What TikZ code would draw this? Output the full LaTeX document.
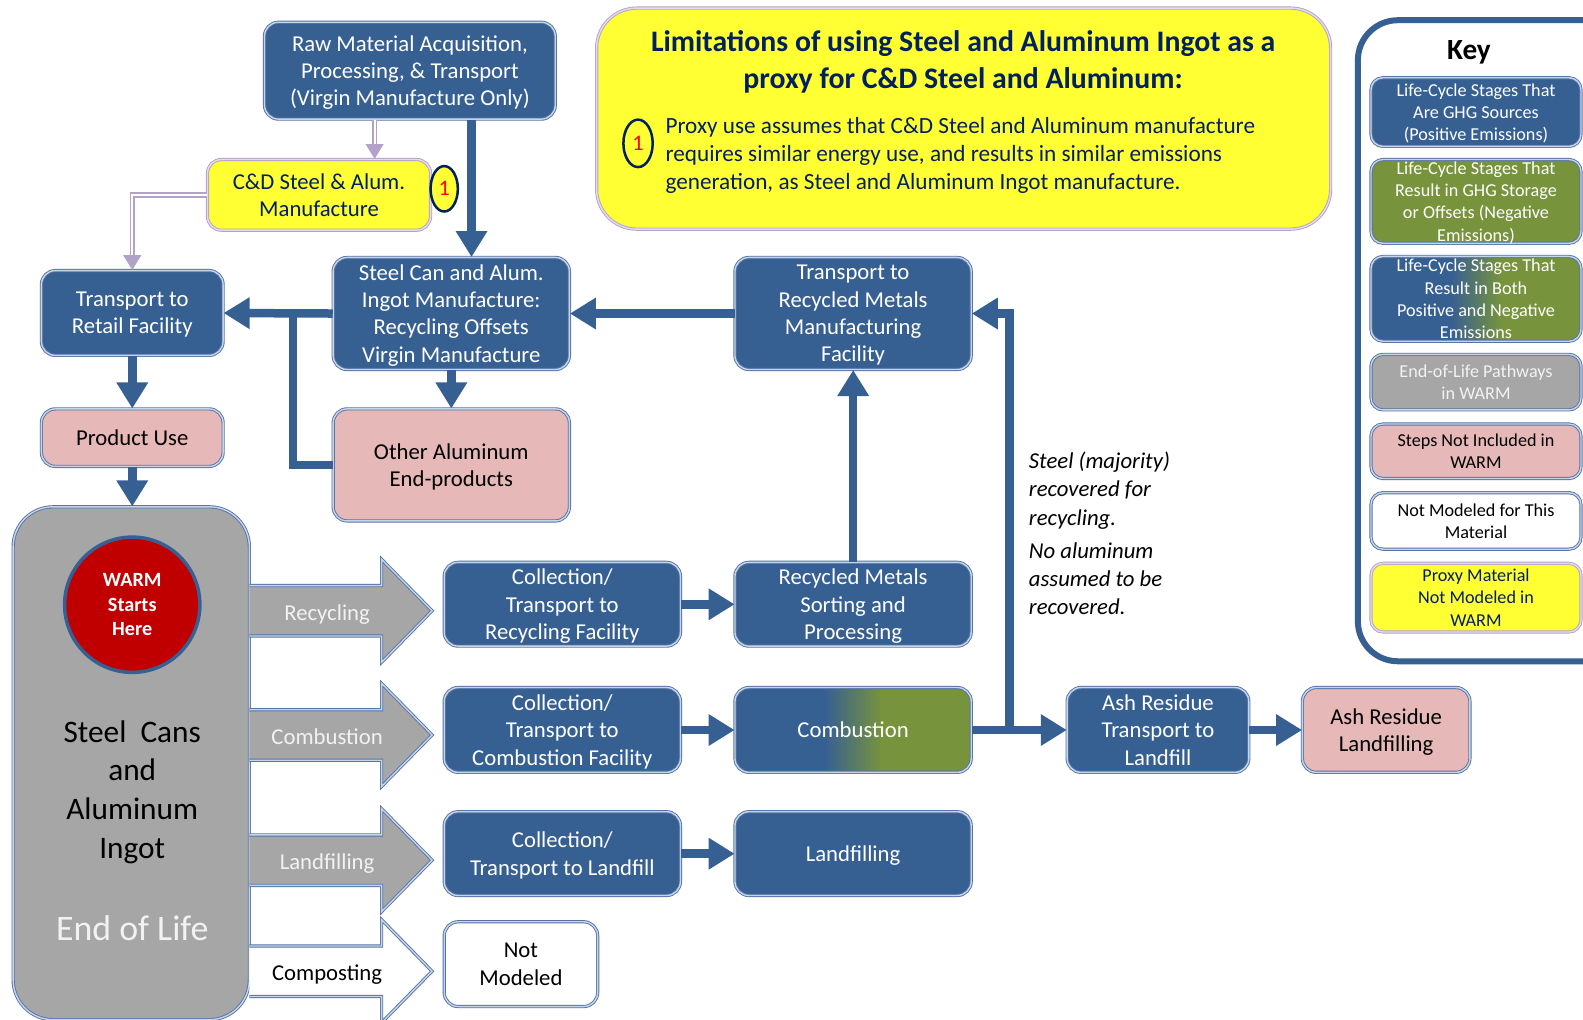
\documentclass[tikz,border=0pt]{standalone}
\usepackage{fontspec}
\setmainfont{Carlito}
\usetikzlibrary{arrows.meta,shapes.geometric}
\definecolor{cblue}{RGB}{55,96,146}
\definecolor{cbord}{RGB}{84,116,166}
\definecolor{cbordin}{RGB}{200,212,232}
\definecolor{cgreen}{RGB}{119,147,60}
\definecolor{cpink}{RGB}{230,185,184}
\definecolor{cgray}{RGB}{166,166,166}
\definecolor{cyel}{RGB}{255,255,51}
\definecolor{cpurp}{RGB}{179,162,199}
\definecolor{cpurpin}{RGB}{228,220,238}
\definecolor{cnavy}{RGB}{0,32,96}
\definecolor{cred}{RGB}{192,0,0}
\definecolor{cltext}{RGB}{242,242,242}
\pgfdeclarehorizontalshading{bluegreen}{100bp}{color(0bp)=(cblue); color(44bp)=(cblue); color(56bp)=(cgreen); color(100bp)=(cgreen)}
\tikzset{
  box/.style={rounded corners=14pt, draw=cbord, double=cbordin, double distance=1.4pt, line width=0.9pt, inner sep=0pt, align=center, text depth=0pt, font=\fontsize{22.5}{27}\selectfont},
  bluebox/.style={box, fill=cblue, text=white},
  pinkbox/.style={box, fill=cpink, text=black},
  whitebox/.style={box, fill=white, text=black},
  yelbox/.style={box, fill=cyel, text=cnavy, draw=cpurp, double=cpurpin},
  conn/.style={draw=cblue, line width=8.5pt, -{Triangle[width=30pt,length=26pt]}},
  plainline/.style={draw=cblue, line width=8.5pt},
  purpline/.style={draw=cpurp, line width=5.5pt, -{Triangle[width=17pt,length=15pt]}},
  purpin/.style={draw=white, line width=2pt, shorten >=15pt},
  keybox/.style={box, rounded corners=12pt, minimum width=208pt, font=\fontsize{18}{22}\selectfont},
  arrborder/.style={draw=cbord, double=cbordin, double distance=1.4pt, line width=0.9pt},
  numcirc/.style={ellipse, draw=cnavy, line width=2.5pt, fill=cyel, inner sep=0pt, text=red, font=\fontsize{22}{22}\selectfont},
  note/.style={anchor=west, align=left, inner sep=0pt, text depth=0pt, font=\itshape\fontsize{22.5}{28}\selectfont}
}
\begin{document}
\begin{tikzpicture}[x=1pt,y=-1pt,scale=1.0096,every node/.append style={transform shape}]
\useasboundingbox (0,0) rectangle (1568,1010.3);
\clip (0,0) rectangle (1568,1010.3);
\fill[white] (0,0) rectangle (1568,1010.3);

% top
\node[bluebox, minimum width=288pt, minimum height=96pt] (raw) at (406,70) {Raw Material Acquisition,\\Processing, \& Transport\\(Virgin Manufacture Only)};
\node[yelbox, minimum width=221pt, minimum height=70pt] (cd) at (316,193) {C\&D Steel \& Alum.\\Manufacture};
\node[numcirc, minimum width=27pt, minimum height=45pt] (n1a) at (440,187) {1};

\node[bluebox, minimum width=180pt, minimum height=84pt] (retail) at (131,310) {Transport to\\Retail Facility};
\node[bluebox, minimum width=234pt, minimum height=111pt] (sc) at (447,310.5) {Steel Can and Alum.\\Ingot Manufacture:\\Recycling Offsets\\Virgin Manufacture};
\node[bluebox, minimum width=234pt, minimum height=111pt] (trm) at (845,310.5) {Transport to\\Recycled Metals\\Manufacturing\\Facility};
\node[pinkbox, minimum width=180pt, minimum height=57pt] (pu) at (131,433.5) {Product Use};
\node[pinkbox, minimum width=234pt, minimum height=111pt] (ae) at (447,460.5) {Other Aluminum\\End-products};

% limitations box
\node[yelbox, rounded corners=40pt, minimum width=727pt, minimum height=219pt] (lim) at (954.5,117.5) {};
\node[font=\bfseries\fontsize{29.5}{36}\selectfont, text=cnavy, align=center, inner sep=0pt, text depth=0pt] (limt) at (954,59) {Limitations of using Steel and Aluminum Ingot as a\\proxy for C\&D Steel and Aluminum:};
\node[anchor=west, align=left, inner sep=0pt, text depth=0pt, font=\fontsize{23}{28}\selectfont, text=cnavy] (limb) at (659,152) {Proxy use assumes that C\&D Steel and Aluminum manufacture\\requires similar energy use, and results in similar emissions\\generation, as Steel and Aluminum Ingot manufacture.};
\node[numcirc, minimum width=29pt, minimum height=47pt] (n1b) at (632,142) {1};

% key
\node[draw=cblue, line width=6pt, rounded corners=40pt, fill=white, minimum width=275pt, minimum height=635pt] (key) at (1482.5,337.5) {};
\node[font=\bfseries\fontsize{29}{30}\selectfont, inner sep=0pt, text depth=0pt] (keyt) at (1455,50) {Key};
\node[keybox, fill=cblue, text=white, minimum height=68pt] (k1) at (1462,111) {Life-Cycle Stages That\\Are GHG Sources\\(Positive Emissions)};
\node[keybox, fill=cgreen, text=white, minimum height=83pt] (k2) at (1462,199.5) {Life-Cycle Stages That\\Result in GHG Storage\\or Offsets (Negative\\Emissions)};
\node[keybox, shading=bluegreen, text=white, minimum height=84pt] (k3) at (1462,296) {Life-Cycle Stages That\\Result in Both\\Positive and Negative\\Emissions};
\node[keybox, fill=cgray, text=cltext, minimum height=55pt] (k4) at (1462,378.5) {End-of-Life Pathways\\in WARM};
\node[keybox, fill=cpink, text=black, minimum height=54pt] (k5) at (1462,447) {Steps Not Included in\\WARM};
\node[keybox, fill=white, text=black, minimum height=56pt] (k6) at (1462,516) {Not Modeled for This\\Material};
\node[keybox, fill=cyel, text=cnavy, draw=cpurp, double=cpurpin, minimum height=68pt] (k7) at (1462,592) {Proxy Material\\Not Modeled in\\WARM};

% end of life block
\node[box, fill=cgray, rounded corners=40pt, minimum width=234pt, minimum height=508pt] (eol) at (130,756) {};
\node[circle, fill=cred, draw=cblue, line width=3.5pt, minimum size=134pt, inner sep=0pt, text=white, font=\bfseries\fontsize{20}{24.5}\selectfont, align=center] (warm) at (131,599) {WARM\\Starts\\Here};
\node[font=\fontsize{31}{38.5}\selectfont, align=center, inner sep=0pt, text depth=0pt] (eolmat) at (131,782) {Steel\ \ Cans\\and\\Aluminum\\Ingot};
\node[text=cltext, font=\fontsize{35.5}{40}\selectfont, inner sep=0pt] (eoltxt) at (131,919) {End of Life};

\foreach \yc/\fc/\tc/\lab in {605/cgray/cltext/Recycling, 728/cgray/cltext/Combustion, 852/cgray/cltext/Landfilling, 962/white/black/Composting}{
  \fill[\fc] (247,{\yc-25}) -- (378,{\yc-25}) -- (378,{\yc-51}) -- (428,\yc) -- (378,{\yc+51}) -- (378,{\yc+25}) -- (247,{\yc+25}) -- cycle;
  \draw[arrborder] (247,{\yc-25}) -- (378,{\yc-25}) -- (378,{\yc-51}) -- (428,\yc) -- (378,{\yc+51}) -- (378,{\yc+25}) -- (247,{\yc+25});
  \node[text=\tc, font=\fontsize{22.5}{27}\selectfont, inner sep=0pt, text depth=0pt] (arr\lab) at (324,{\yc+1.5}) {\lab};
}

% pathway boxes
\node[bluebox, minimum width=234pt, minimum height=83pt] (cr) at (557,598.5) {Collection/\\Transport to\\Recycling Facility};
\node[bluebox, minimum width=234pt, minimum height=83pt] (sort) at (845,598.5) {Recycled Metals\\Sorting and\\Processing};
\node[bluebox, minimum width=234pt, minimum height=84pt] (cc) at (557,723) {Collection/\\Transport to\\Combustion Facility};
\node[box, shading=bluegreen, text=white, minimum width=234pt, minimum height=84pt] (comb) at (845,723) {Combustion};
\node[bluebox, minimum width=234pt, minimum height=83pt] (cl) at (557,845.5) {Collection/\\Transport to Landfill};
\node[bluebox, minimum width=234pt, minimum height=83pt] (lf) at (845,845.5) {Landfilling};
\node[whitebox, minimum width=152pt, minimum height=84pt] (nm) at (516,955) {Not\\Modeled};
\node[bluebox, minimum width=180pt, minimum height=84pt] (asht) at (1147,723) {Ash Residue\\Transport to\\Landfill};
\node[pinkbox, minimum width=166pt, minimum height=84pt] (ashl) at (1373,723) {Ash Residue\\Landfilling};

% notes
\node[note] (note1) at (1019,484) {Steel (majority)\\recovered for\\recycling.};
\node[note] (note2) at (1019,573) {No aluminum\\assumed to be\\recovered.};

% connectors
\draw[conn] ([xshift=61pt]raw.south) -- ([xshift=61pt]raw.south |- sc.north);
\draw[purpline] ([xshift=-35pt]raw.south) -- ([xshift=-35pt]raw.south |- cd.north);
\draw[purpin] ([xshift=-35pt]raw.south) -- ([xshift=-35pt]raw.south |- cd.north);
\draw[purpline] (cd.west) -| (retail.north);
\draw[purpin] (cd.west) -| (retail.north);
\draw[conn] (sc.west) -- (retail.east);
\coordinate (br1) at (290,310);
\draw[plainline] (br1) |- (ae.west);
\draw[conn] (sc.south) -- (ae.north);
\draw[conn] (trm.west) -- (sc.east);
\draw[conn] (retail.south) -- (pu.north);
\draw[conn] (pu.south) -- (pu.south |- eol.north);
\draw[conn] (sort.north) -- (trm.south);
\draw[conn] (cr.east) -- (sort.west);
\draw[conn] (cc.east) -- (comb.west);
\draw[conn] (cl.east) -- (lf.west);
\draw[conn] (comb.east) -- (asht.west);
\coordinate (br2) at (1000,723);
\draw[conn] (br2) |- (trm.east);
\draw[conn] (asht.east) -- (ashl.west);
\end{tikzpicture}
\end{document}
